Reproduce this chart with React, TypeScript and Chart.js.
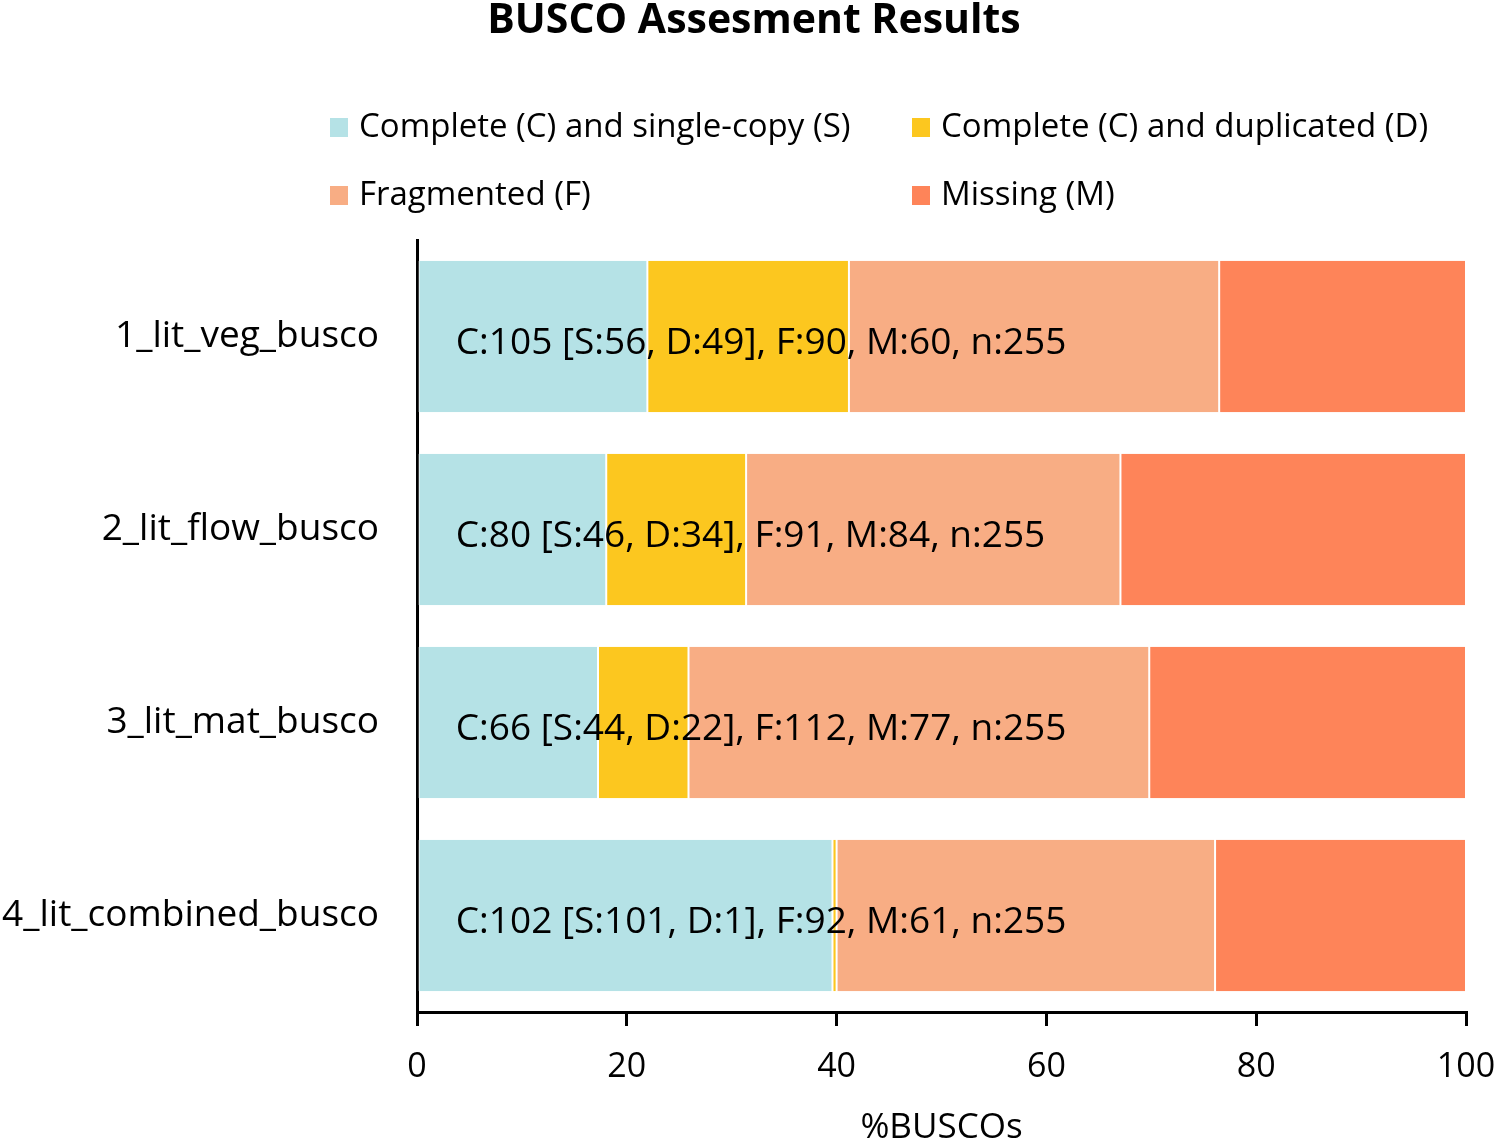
import React, { useEffect, useRef } from "react";
import { Chart, registerables } from "chart.js";

Chart.register(...registerables);

const categories = ["1_lit_veg_busco", "2_lit_flow_busco", "3_lit_mat_busco", "4_lit_combined_busco"];
const totalN = 255;
const singleCopy = [56, 46, 44, 101];
const duplicated = [49, 34, 22, 1];
const fragmented = [90, 91, 112, 92];
const missing = [60, 84, 77, 61];
const seriesNames = [
  "Complete (C) and single-copy (S)",
  "Complete (C) and duplicated (D)",
  "Fragmented (F)",
  "Missing (M)",
];
const seriesColors = ["#b5e2e6", "#fcc71f", "#f8ad84", "#fe8459"];
const xTicks = [0, 20, 40, 60, 80, 100];

const FONT = "'Open Sans', 'Noto Sans', sans-serif";

const pct = (arr: number[]) => arr.map((v) => (v / totalN) * 100);

export default function App() {
  const ref = useRef<HTMLCanvasElement | null>(null);

  useEffect(() => {
    document.body.style.margin = "0";
    const canvas = ref.current;
    if (!canvas) return;

    const overlay = {
      id: "overlay",
      afterDatasetsDraw(chart: any) {
        const ctx = chart.ctx;
        const xs = chart.scales.x;
        const ys = chart.scales.y;
        ctx.save();
        ctx.fillStyle = "#000";
        ctx.font = `37px ${FONT}`;
        ctx.textAlign = "left";
        ctx.textBaseline = "alphabetic";
        categories.forEach((_, i) => {
          const s = singleCopy[i];
          const d = duplicated[i];
          const txt = `C:${s + d} [S:${s}, D:${d}], F:${fragmented[i]}, M:${missing[i]}, n:${totalN}`;
          ctx.fillText(txt, xs.getPixelForValue(3.7), ys.getPixelForValue(i) + 17);
        });
        ctx.restore();
      },
      afterDraw(chart: any) {
        const ctx = chart.ctx;
        ctx.save();
        // title
        ctx.fillStyle = "#000";
        ctx.font = `bold 41px ${FONT}`;
        ctx.textAlign = "center";
        ctx.textBaseline = "middle";
        ctx.fillText("BUSCO Assesment Results", 754, 21);
        // legend
        const colX = [330, 912];
        const rowY = [128, 196];
        ctx.font = `33px ${FONT}`;
        ctx.textAlign = "left";
        seriesNames.forEach((name, k) => {
          const x = colX[k % 2];
          const y = rowY[Math.floor(k / 2)];
          ctx.fillStyle = seriesColors[k];
          ctx.fillRect(x, y - 10, 18, 19);
          ctx.fillStyle = "#000";
          ctx.fillText(name, x + 29, y);
        });
        ctx.restore();
      },
    };

    const raw = [singleCopy, duplicated, fragmented, missing];
    const chart = new Chart(canvas, {
      type: "bar",
      data: {
        labels: categories,
        datasets: raw.map((arr, k) => ({
          label: seriesNames[k],
          data: pct(arr),
          backgroundColor: seriesColors[k],
          borderColor: "#ffffff",
          borderWidth: { left: 1, right: 1, top: 0, bottom: 0 },
          borderSkipped: false,
          barPercentage: 0.786,
          categoryPercentage: 1,
        })),
      },
      options: {
        indexAxis: "y",
        animation: false,
        responsive: false,
        maintainAspectRatio: false,
        devicePixelRatio: 1,
        layout: { padding: { top: 240, left: 0, right: 33, bottom: 0 } },
        plugins: {
          legend: { display: false },
          title: { display: false },
          tooltip: { enabled: false },
        },
        scales: {
          x: {
            stacked: true,
            min: 0,
            max: 100,
            afterBuildTicks(scale: any) {
              scale.ticks = xTicks.map((v) => ({ value: v }));
            },
            afterFit(scale: any) {
              scale.height = 130;
              scale.paddingLeft = 0;
              scale.paddingRight = 0;
            },
            grid: {
              display: true,
              drawOnChartArea: false,
              drawTicks: true,
              tickLength: 14,
              color: "#000",
              lineWidth: 3,
            },
            border: { display: true, color: "#000", width: 3 },
            ticks: {
              color: "#000",
              font: { family: FONT, size: 34 },
              padding: 21,
              maxRotation: 0,
            },
            title: {
              display: true,
              text: "%BUSCOs",
              color: "#000",
              font: { family: FONT, size: 35, lineHeight: 1 },
              padding: { top: 0, bottom: -4 },
            },
          },
          y: {
            stacked: true,
            afterFit(scale: any) {
              scale.width = 417;
              scale.paddingTop = 0;
              scale.paddingBottom = 0;
            },
            grid: { display: false, drawTicks: false },
            border: { display: true, color: "#000", width: 3 },
            ticks: {
              color: "#000",
              font: { family: FONT, size: 37 },
              padding: 38,
            },
          },
        },
      },
      plugins: [overlay],
    });

    return () => chart.destroy();
  }, []);

  return <canvas ref={ref} width={1499} height={1142} style={{ display: "block" }} />;
}
